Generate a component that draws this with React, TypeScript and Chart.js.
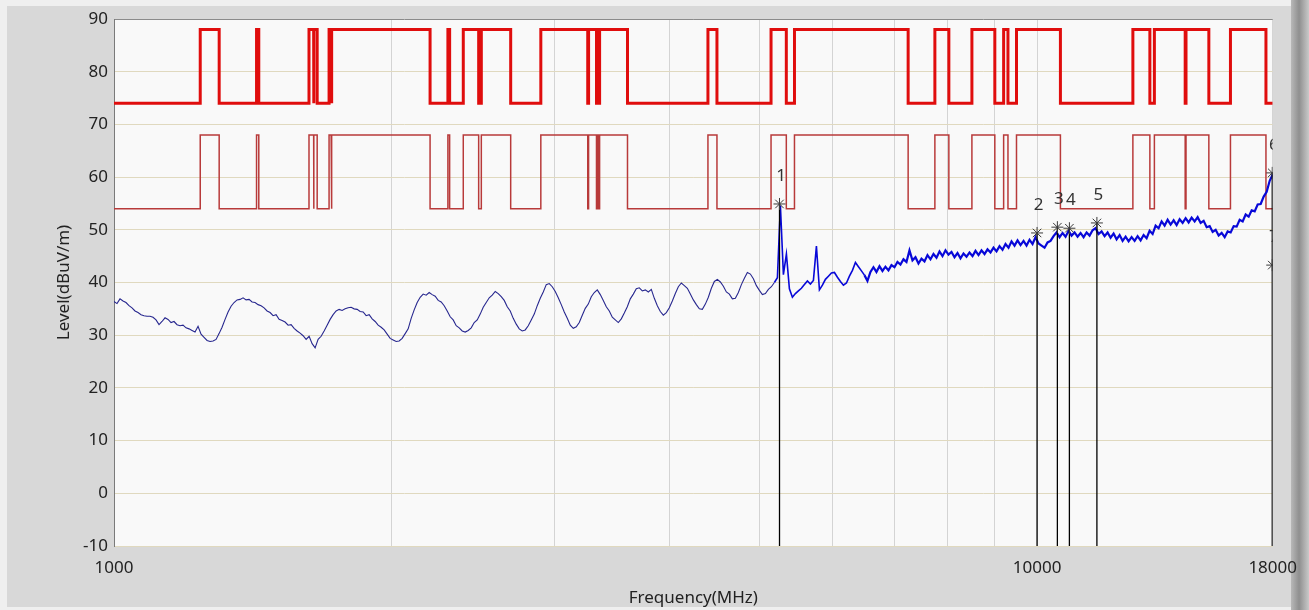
import React, { useEffect, useRef } from 'react';
import { Chart, registerables } from 'chart.js';

Chart.register(...registerables);

// Sweep range (MHz)
const FREQ_START = 1000;
const FREQ_STOP = 18000;

const TRACE_LEVELS: number[] = [
  36.4, 36.0, 36.9, 36.5, 36.2, 35.6, 35.2, 34.6, 34.3, 33.9,
  33.7, 33.6, 33.6, 33.4, 32.9, 32.0, 32.6, 33.3, 33.0, 32.4,
  32.6, 32.0, 31.8, 31.9, 31.4, 31.2, 30.9, 30.6, 31.7, 30.2,
  29.6, 29.0, 28.8, 28.9, 29.2, 30.3, 31.5, 33.0, 34.4, 35.5,
  36.2, 36.7, 36.8, 37.1, 36.7, 36.8, 36.3, 36.2, 35.8, 35.6,
  35.2, 34.6, 34.3, 33.7, 33.9, 33.0, 32.8, 32.5, 31.9, 32.0,
  31.3, 30.8, 30.4, 29.9, 29.2, 29.8, 28.4, 27.6, 29.2, 29.8,
  30.8, 31.9, 33.0, 33.9, 34.6, 34.9, 34.7, 35.0, 35.2, 35.3,
  35.0, 34.9, 34.5, 34.4, 33.7, 33.9, 33.1, 32.6, 31.9, 31.5,
  31.0, 30.2, 29.4, 29.1, 28.8, 28.9, 29.4, 30.3, 31.2, 33.2,
  34.8, 36.2, 37.2, 37.8, 37.6, 38.1, 37.7, 37.4, 36.6, 36.3,
  35.6, 34.6, 33.5, 32.9, 31.8, 31.4, 30.8, 30.6, 30.9, 31.4,
  32.4, 32.9, 34.0, 35.3, 36.2, 37.1, 37.6, 38.3, 37.9, 37.3,
  36.6, 35.4, 34.6, 33.2, 32.1, 31.2, 30.8, 31.0, 31.8, 32.9,
  34.0, 35.6, 37.0, 38.2, 39.6, 39.8, 39.2, 38.3, 37.1, 35.8,
  34.4, 33.2, 31.9, 31.3, 31.6, 32.4, 33.8, 35.1, 35.9, 37.3,
  38.1, 38.6, 37.7, 36.6, 35.4, 34.6, 33.4, 32.9, 32.4, 33.1,
  34.2, 35.4, 36.9, 37.8, 38.8, 39.0, 38.4, 38.6, 38.2, 38.7,
  37.0, 35.6, 34.5, 33.8, 34.3, 35.2, 36.5, 37.9, 39.2, 39.9,
  39.4, 38.9, 37.8, 36.7, 35.8, 35.0, 34.9, 35.9, 37.2, 38.9,
  40.2, 40.6, 40.1, 39.3, 38.2, 37.8, 36.9, 37.0, 38.1, 39.6,
  40.8, 41.9, 41.6, 40.7, 39.4, 38.5, 37.7, 37.9, 38.7, 39.2,
  40.0, 40.9, 54.6, 41.5, 45.4, 38.8, 37.2, 37.9, 38.4, 38.9,
  39.6, 40.3, 39.7, 40.4, 46.9, 38.6, 39.5, 40.6, 41.2, 41.8,
  41.9, 41.0, 40.2, 39.5, 39.9, 41.2, 42.3, 43.8, 43.0, 42.2,
  41.4, 40.3, 42.0, 42.9, 42.0, 43.1, 42.2, 43.0, 42.3, 43.3,
  42.9, 43.9, 43.4, 44.4, 43.9, 46.1, 44.2, 44.8, 43.6, 44.5,
  44.0, 45.2, 44.4, 45.4, 44.7, 45.9, 45.0, 46.1, 45.3, 45.8,
  44.8, 45.6, 44.6, 45.5, 44.9, 45.7, 45.0, 46.0, 45.2, 46.1,
  45.4, 46.3, 45.7, 46.6, 45.9, 46.9, 46.2, 47.3, 46.6, 47.8,
  47.0, 48.0, 47.1, 47.9, 47.0, 48.1, 47.3, 48.6, 47.4, 47.0,
  46.6, 47.6, 47.9, 48.8, 49.5, 48.6, 49.4, 48.7, 49.8, 48.9,
  49.5, 48.7, 49.4, 48.6, 49.5, 48.9, 49.9, 50.3, 49.2, 49.7,
  48.8, 49.5, 48.5, 49.3, 48.2, 49.0, 47.9, 48.7, 47.8, 48.6,
  47.9, 48.8, 48.0, 49.0, 48.4, 49.8, 49.2, 50.8, 50.3, 51.6,
  50.8, 51.9, 51.0, 51.8, 50.9, 52.0, 51.3, 52.2, 51.4, 52.3,
  51.6, 52.4, 51.3, 51.7, 50.5, 50.7, 49.6, 50.0, 48.9, 49.4,
  48.6, 49.7, 49.5, 50.7, 50.6, 51.9, 51.6, 52.9, 52.5, 53.7,
  53.5, 54.8, 54.9, 56.3, 57.2, 59.3, 60.5,
];

// Restricted bands (MHz) where the limit steps down
const RESTRICTED_BANDS: [number, number][] = [
  [960, 1240], [1300, 1427], [1435, 1626.5], [1645.5, 1646.5], [1660, 1710],
  [1718.8, 1722.2], [2200, 2300], [2310, 2390], [2483.5, 2500], [2690, 2900],
  [3260, 3267], [3332, 3339], [3345.8, 3358], [3600, 4400], [4500, 5150],
  [5350, 5460], [7250, 7750], [8025, 8500], [9000, 9200], [9300, 9500],
  [10600, 12700], [13250, 13400], [14470, 14500], [15350, 16200], [17700, 21400],
];
const PEAK_LIMIT = { restricted: 74, other: 88 };
const AVG_LIMIT = { restricted: 54, other: 68 };

// Markers
const MARKER_LABELS = ['1', '2', '3', '4', '5', '6', '7'];
const MARKER_FREQS = [5260, 10000, 10520, 10840, 11610, 17980, 17980];
const MARKER_LEVELS = [54.9, 49.4, 50.5, 50.3, 51.3, 60.8, 43.3];

// Axes
const X_TICKS = [1000, 2000, 3000, 4000, 5000, 6000, 7000, 8000, 9000, 10000, 18000];
const X_LABELED = [1000, 10000, 18000];
const Y_MIN = -10;
const Y_MAX = 90;
const Y_STEP = 10;

const FONT = "'Noto Sans', 'Open Sans', sans-serif";

function buildLimit(restricted: number, other: number) {
  const inBand = (f: number) => RESTRICTED_BANDS.some(([a, b]) => f >= a && f < b);
  const edges = RESTRICTED_BANDS.flat()
    .filter((f) => f > FREQ_START && f < FREQ_STOP)
    .sort((a, b) => a - b);
  const pts: { x: number; y: number }[] = [];
  let level = inBand(FREQ_START) ? restricted : other;
  pts.push({ x: FREQ_START, y: level });
  for (const e of edges) {
    const next = inBand(e) ? restricted : other;
    if (next === level) continue;
    pts.push({ x: e, y: level });
    pts.push({ x: e, y: next });
    level = next;
  }
  pts.push({ x: FREQ_STOP, y: level });
  return pts;
}

export default function App() {
  const canvasRef = useRef<HTMLCanvasElement | null>(null);

  useEffect(() => {
    const canvas = canvasRef.current;
    if (!canvas) return;

    const n = TRACE_LEVELS.length;
    const trace = TRACE_LEVELS.map((y, i) => ({
      x: FREQ_START * Math.pow(FREQ_STOP / FREQ_START, i / (n - 1)),
      y,
    }));

    const markerPts = MARKER_FREQS.map((f, i) => ({ x: f, y: MARKER_LEVELS[i] }));
    const markerLines: { x: number; y: number | null }[] = [];
    MARKER_FREQS.forEach((f, i) => {
      markerLines.push({ x: f, y: MARKER_LEVELS[i] }, { x: f, y: Y_MIN }, { x: f, y: null });
    });

    const plotBg = {
      id: 'plotBg',
      beforeDraw(chart: any) {
        const { ctx, chartArea } = chart;
        ctx.save();
        ctx.fillStyle = '#f9f9f9';
        ctx.fillRect(chartArea.left, chartArea.top, chartArea.right - chartArea.left, chartArea.bottom - chartArea.top);
        ctx.restore();
      },
    };

    const markerText = {
      id: 'markerText',
      afterDatasetsDraw(chart: any) {
        const { ctx, chartArea, scales } = chart;
        ctx.save();
        ctx.beginPath();
        ctx.rect(chartArea.left, chartArea.top, chartArea.right - chartArea.left, chartArea.bottom - chartArea.top);
        ctx.clip();
        ctx.fillStyle = '#333333';
        ctx.font = `17px ${FONT}`;
        ctx.textAlign = 'center';
        ctx.textBaseline = 'middle';
        MARKER_FREQS.forEach((f, i) => {
          const x = scales.x.getPixelForValue(f);
          const y = scales.y.getPixelForValue(MARKER_LEVELS[i]);
          ctx.fillText(MARKER_LABELS[i], x + 1.5, y - 28);
        });
        ctx.restore();
      },
    };

    const chart = new Chart(canvas, {
      type: 'line',
      data: {
        datasets: [
          {
            label: 'Markers',
            data: markerPts,
            showLine: false,
            pointStyle: 'star',
            pointRadius: 6,
            pointBorderColor: '#3a3a3a',
            pointBackgroundColor: '#3a3a3a',
            pointBorderWidth: 1,
            clip: 0,
          } as any,
          {
            label: 'Marker lines',
            data: markerLines as any,
            borderColor: '#000000',
            borderWidth: 1.3,
            pointRadius: 0,
            spanGaps: false,
            clip: 0,
          } as any,
          {
            label: 'Level',
            data: trace,
            borderColor: '#1414c0',
            borderWidth: 1.2,
            pointRadius: 0,
            segment: {
              borderColor: (c: any) => (c.p0DataIndex < 220 ? '#26268e' : '#0808d8'),
              borderWidth: (c: any) => (c.p0DataIndex < 220 ? 1.1 : c.p0DataIndex < 250 ? 1.6 : 2.2),
            },
          } as any,
          {
            label: 'Peak limit',
            data: buildLimit(PEAK_LIMIT.restricted, PEAK_LIMIT.other),
            borderColor: '#e00d0d',
            borderWidth: 3,
            pointRadius: 0,
          },
          {
            label: 'Average limit',
            data: buildLimit(AVG_LIMIT.restricted, AVG_LIMIT.other),
            borderColor: '#b83a3a',
            borderWidth: 1.5,
            pointRadius: 0,
          },
        ],
      },
      options: {
        animation: false,
        responsive: false,
        maintainAspectRatio: false,
        devicePixelRatio: 1,
        layout: { padding: { left: 0, top: 19, right: 35, bottom: 0 } },
        plugins: {
          legend: { display: false },
          tooltip: { enabled: false },
        },
        elements: { line: { tension: 0 } },
        scales: {
          x: {
            type: 'logarithmic',
            min: FREQ_START,
            max: FREQ_STOP,
            afterBuildTicks: (scale: any) => {
              scale.ticks = X_TICKS.map((v) => ({ value: v }));
            },
            afterFit: (scale: any) => {
              scale.height = 64;
            },
            ticks: {
              autoSkip: false,
              maxRotation: 0,
              minRotation: 0,
              padding: 12,
              color: '#222222',
              font: { family: FONT, size: 17 },
              callback: (v: any) => (X_LABELED.includes(Number(v)) ? String(v) : ''),
            },
            grid: {
              drawTicks: false,
              color: (c: any) => (c.tick && c.tick.value === FREQ_START ? '#7a7a7a' : '#d4d4d4'),
              lineWidth: 1,
            },
            border: { display: false },
            title: {
              display: true,
              text: 'Frequency(MHz)',
              color: '#222222',
              font: { family: FONT, size: 17 },
              padding: { top: 0, bottom: 2 },
            },
          } as any,
          y: {
            type: 'linear',
            min: Y_MIN,
            max: Y_MAX,
            afterFit: (scale: any) => {
              scale.width = 114;
            },
            ticks: {
              stepSize: Y_STEP,
              padding: 6,
              color: '#222222',
              font: { family: FONT, size: 17 },
            },
            grid: {
              drawTicks: false,
              color: (c: any) => (c.tick && c.tick.value === Y_MAX ? '#8a8a8a' : '#e0d9bf'),
              lineWidth: 1,
            },
            border: { display: true, color: '#7a7a7a', width: 1 },
            title: {
              display: true,
              text: 'Level(dBuV/m)',
              color: '#222222',
              font: { family: FONT, size: 17 },
              padding: { top: 54, bottom: 0 },
            },
          } as any,
        },
      },
      plugins: [plotBg, markerText],
    });

    return () => {
      chart.destroy();
    };
  }, []);

  return (
    <div
      style={{
        position: 'fixed',
        left: 0,
        top: 0,
        width: 1309,
        height: 610,
        background: '#efefef',
        overflow: 'hidden',
      }}
    >
      <div
        style={{
          position: 'absolute',
          left: 7,
          top: 6,
          width: 1284,
          height: 601,
          background: '#d8d8d8',
        }}
      />
      <div
        style={{
          position: 'absolute',
          left: 1291,
          top: 0,
          width: 18,
          height: 610,
          background: 'linear-gradient(to right, #b8b8b8, #8f8f8f 45%, #c9c9c9)',
        }}
      />
      <canvas
        ref={canvasRef}
        width={1309}
        height={610}
        style={{ position: 'absolute', left: 0, top: 0, width: 1309, height: 610 }}
      />
    </div>
  );
}
